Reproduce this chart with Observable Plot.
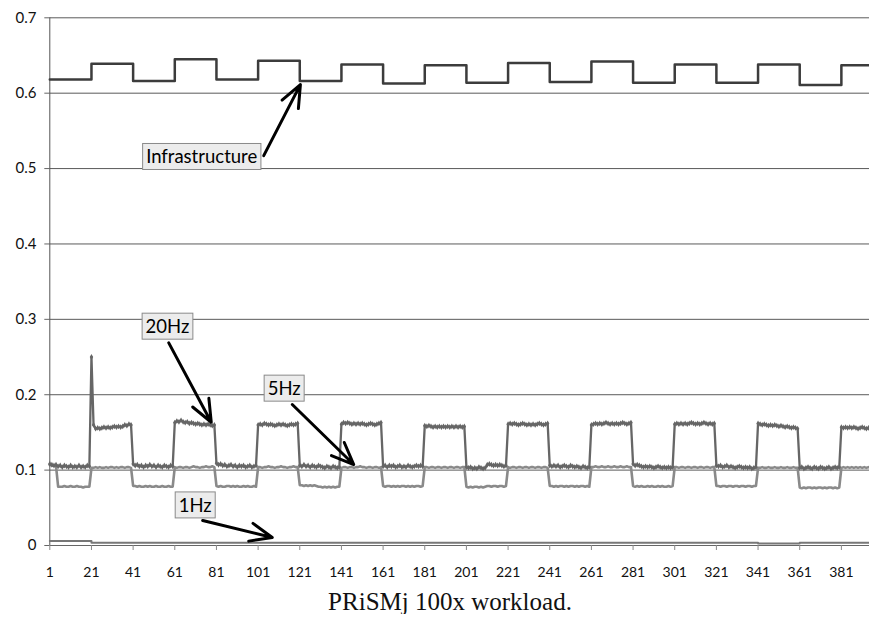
<!DOCTYPE html>
<html>
<head>
<meta charset="utf-8">
<script src="https://cdn.jsdelivr.net/npm/d3@7"></script>
<script src="https://cdn.jsdelivr.net/npm/@observablehq/plot@0.6"></script>
<style>
  html, body { margin: 0; padding: 0; background: #fff; }
  #chart svg { display: block; }
  #caption {
    width: 869px; box-sizing: border-box; padding-left: 31px; padding-top: 4px;
    text-align: center; font-family: "Liberation Serif", "Times New Roman", serif;
    font-size: 25px; line-height: 25px; color: #111;
  }
</style>
</head>
<body>
<div id="chart"></div>
<div id="caption">PRiSMj 100x workload.</div>
<script>
// ---- axis ticks ----
const xTicks = [1,21,41,61,81,101,121,141,161,181,201,221,241,261,281,301,321,341,361,381];
const yTicks = [0,0.1,0.2,0.3,0.4,0.5,0.6,0.7];
const lastSample = 395;

// ---- Infrastructure: level of each 20-sample block (starts at sample) ----
const infraStart = [1,21,41,61,81,101,121,141,161,181,201,221,241,261,281,301,321,341,361,381];
const infraLevel = [0.618,0.639,0.616,0.645,0.618,0.643,0.616,0.638,0.613,0.637,0.614,0.640,0.615,0.642,0.614,0.638,0.614,0.638,0.611,0.637];

// ---- 1Hz: level changes (starts at sample) ----
const hz1Start = [1,21,341,361];
const hz1Level = [0.006,0.0038,0.0028,0.0038];

// ---- 20Hz per sample (thousandths) ----
const hz20 = [
108,107,106,107,105,106,104,106,105,104,106,104,105,104,106,104,105,104,106,105,
250,160,155,156,155,156,157,156,157,156,157,158,157,158,157,158,160,159,161,160,
108,106,107,105,106,104,106,105,107,105,106,104,106,105,104,106,105,104,106,105,
163,165,164,166,164,163,164,162,163,162,161,162,161,160,161,160,161,160,159,160,
109,107,108,106,107,105,106,107,105,106,104,106,105,106,104,105,106,104,105,106,
160,161,160,162,161,160,161,160,159,160,161,160,161,160,159,160,161,160,161,162,
106,105,107,105,106,104,106,105,104,106,105,104,103,105,104,103,105,104,103,104,
161,163,162,163,162,161,162,161,162,161,162,161,160,161,162,161,160,161,162,163,
105,106,104,106,105,106,104,105,106,104,105,104,106,105,104,105,106,105,106,105,
159,158,159,158,157,158,157,158,157,158,157,158,157,158,157,158,157,158,157,158,
104,103,104,102,103,102,104,103,102,103,107,108,107,106,107,106,107,106,105,106,
161,162,161,162,161,160,161,162,161,160,161,160,161,160,161,162,161,160,161,162,
106,105,106,105,106,104,105,106,105,104,106,105,104,105,104,103,105,104,103,104,
160,161,162,161,162,161,162,163,162,161,162,161,162,161,162,163,162,161,162,163,
108,106,107,106,105,104,105,104,105,104,103,104,105,104,103,104,103,104,103,104,
161,162,161,162,161,162,161,162,163,162,161,162,161,162,163,162,161,162,161,162,
106,105,106,104,105,106,104,105,104,103,104,105,104,103,104,103,104,102,103,104,
162,161,160,161,160,159,160,159,160,159,158,159,158,157,158,157,156,157,156,155,
103,104,102,103,104,103,102,104,103,102,104,103,102,103,104,102,103,104,103,104,
157,156,157,156,157,156,157,156,155,156,157,156,155,156,157
];

// ---- 5Hz per sample (thousandths) ----
const hz5 = [
107,106,106,105,78,78,78,79,78,78,79,78,78,79,78,78,77,78,78,78,
103,103,104,103,104,103,103,104,103,104,104,103,104,103,104,104,103,104,104,103,
79,79,78,79,78,78,79,78,79,78,78,79,78,78,79,78,78,79,78,78,
104,103,104,104,103,104,104,103,104,105,104,104,103,104,104,105,104,104,105,104,
79,78,79,78,78,79,79,78,79,78,79,78,78,79,78,79,78,78,79,78,
104,104,103,104,104,105,104,104,103,104,104,105,104,104,103,104,104,105,104,104,
80,80,79,80,79,80,79,80,79,78,78,77,78,77,78,77,78,77,78,78,
103,104,104,103,104,104,103,104,104,105,104,104,103,104,104,103,104,104,103,104,
79,78,79,79,78,79,78,79,78,79,79,78,79,78,79,78,79,79,78,79,
104,104,103,104,104,103,104,104,103,104,104,103,104,104,103,104,104,103,104,104,
78,77,78,77,78,78,77,78,77,78,79,79,78,79,79,78,79,79,78,79,
104,103,104,104,103,104,104,103,104,104,103,104,104,103,104,104,103,104,104,103,
79,79,78,79,78,79,79,78,79,78,79,79,78,79,78,79,79,78,79,78,
104,104,105,104,104,105,104,104,105,104,104,105,104,104,105,104,104,105,104,104,
79,78,79,78,79,78,78,79,78,79,78,78,79,78,79,78,78,79,78,79,
104,104,103,104,104,103,104,104,103,104,104,103,104,104,103,104,104,103,104,104,
79,79,78,79,79,78,79,79,78,79,79,78,79,79,78,79,79,78,79,79,
103,103,104,103,103,104,103,103,104,103,103,104,103,103,104,103,103,104,103,103,
77,76,77,76,77,77,76,77,76,77,77,76,77,76,77,77,76,77,76,77,
103,104,103,104,103,104,103,104,103,104,103,104,103,104,103
];

// ---- annotations (data coordinates) ----
const annotText = ["Infrastructure","20Hz","5Hz","1Hz"];
const annotX = [73.9,57.5,113.5,70.8];
const annotY = [0.5146,0.2895,0.2073,0.0524];
const arrowX1 = [103.7,58.1,117.4,74.4];
const arrowY1 = [0.5172,0.2688,0.187,0.0332];
const arrowX2 = [121.3,78.5,146.9,107.8];
const arrowY2 = [0.6114,0.1635,0.1074,0.0106];

// ---- tables ----
const stepRows = (starts, levels) => {
  const rows = starts.map((s, i) => ({sample: s, value: levels[i]}));
  rows.push({sample: lastSample, value: levels[levels.length - 1]});
  return rows;
};
const infraRows = stepRows(infraStart, infraLevel);
const hz1Rows = stepRows(hz1Start, hz1Level);
const hz20Rows = hz20.map((v, i) => ({sample: i + 1, value: v / 1000}));
const hz5Rows = hz5.map((v, i) => ({sample: i + 1, value: v / 1000}));
const annotRows = annotText.map((t, i) => ({text: t, x: annotX[i], y: annotY[i],
  x1: arrowX1[i], y1: arrowY1[i], x2: arrowX2[i], y2: arrowY2[i]}));

const chart = Plot.plot({
  width: 869,
  height: 585,
  marginLeft: 49.3,
  marginRight: 0,
  marginTop: 17.3,
  marginBottom: 40,
  style: {fontFamily: "Lato, 'Open Sans', sans-serif", fontSize: "14px", color: "#111", background: "#fff"},
  x: {domain: [1, 394.5]},
  y: {domain: [0, 0.7]},
  marks: [
    Plot.gridY(yTicks.filter(d => d > 0), {stroke: "#5a5a5a", strokeOpacity: 1, strokeWidth: 1}),
    Plot.ruleX([1], {stroke: "#555", strokeWidth: 1}),
    Plot.line(hz5Rows, {x: "sample", y: "value", stroke: "#8a8a8a", strokeWidth: 2.6}),
    Plot.line(hz20Rows, {x: "sample", y: "value", stroke: "#666", strokeWidth: 2.3}),
    Plot.dot(hz20Rows, {x: "sample", y: "value", symbol: "diamond", r: 1.8, fill: "#666", stroke: "none"}),
    Plot.line(hz1Rows, {x: "sample", y: "value", stroke: "#777", strokeWidth: 2, curve: "step-after"}),
    Plot.line(infraRows, {x: "sample", y: "value", stroke: "#3c3c3c", strokeWidth: 2.5, curve: "step-after"}),
    Plot.ruleY([0], {stroke: "#666", strokeWidth: 1}),
    Plot.axisY({ticks: yTicks, tickFormat: d => d === 0 ? "0" : d.toFixed(1), tickSize: 5, tickPadding: 8.3, stroke: "#666", label: null, fontSize: 15}),
    Plot.axisX({ticks: xTicks, tickFormat: d => String(d), tickSize: 5, tickPadding: 17, stroke: "#888", label: null, fontSize: 14}),
    Plot.arrow(annotRows, {x1: "x1", y1: "y1", x2: "x2", y2: "y2", stroke: "#000", strokeWidth: 3, headLength: 12, headAngle: 45}),
    Plot.text(annotRows, {x: "x", y: "y", text: "text", fill: "#000", fontSize: 18.5})
  ]
});
document.getElementById("chart").appendChild(chart);

// add light boxes behind annotation labels
const ns = "http://www.w3.org/2000/svg";
chart.querySelectorAll('g[aria-label="text"] text').forEach(t => {
  const b = t.getBBox();
  const r = document.createElementNS(ns, "rect");
  r.setAttribute("x", b.x - 3.5);
  r.setAttribute("y", b.y - 2);
  r.setAttribute("width", b.width + 7);
  r.setAttribute("height", b.height + 4);
  r.setAttribute("fill", "#ececec");
  r.setAttribute("stroke", "#8a8a8a");
  r.setAttribute("stroke-width", "1");
  const tr = t.getAttribute("transform");
  if (tr) r.setAttribute("transform", tr);
  t.parentNode.insertBefore(r, t);
});
</script>
</body>
</html>
